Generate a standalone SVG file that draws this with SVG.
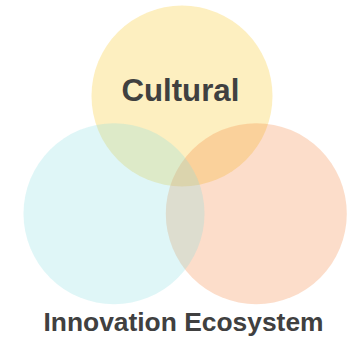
<svg xmlns="http://www.w3.org/2000/svg" width="364" height="340" viewBox="0 0 364 340">
  <style>
    .c { fill-opacity: 0.26; }
    .lbl { font-family: "Liberation Sans", Arial, Helvetica, sans-serif; font-weight: bold; fill: #404040; text-anchor: middle; }
  </style>
  <rect width="364" height="340" fill="#ffffff"/>
  <g id="cultural">
    <circle class="c" cx="182" cy="96" r="90.5" fill="#F7C10D"/>
  </g>
  <g id="right-circle">
    <circle class="c" cx="256.3" cy="213.7" r="90.5" fill="#F37C33"/>
  </g>
  <g id="left-circle">
    <circle class="c" cx="114" cy="213.7" r="90.5" fill="#84DCE0"/>
  </g>
  <g id="connectors"></g>
  <g id="labels">
    <text class="lbl" x="180.4" y="101" font-size="31.2">Cultural</text>
    <text class="lbl" x="183.5" y="331" font-size="26.4">Innovation Ecosystem</text>
  </g>
</svg>
